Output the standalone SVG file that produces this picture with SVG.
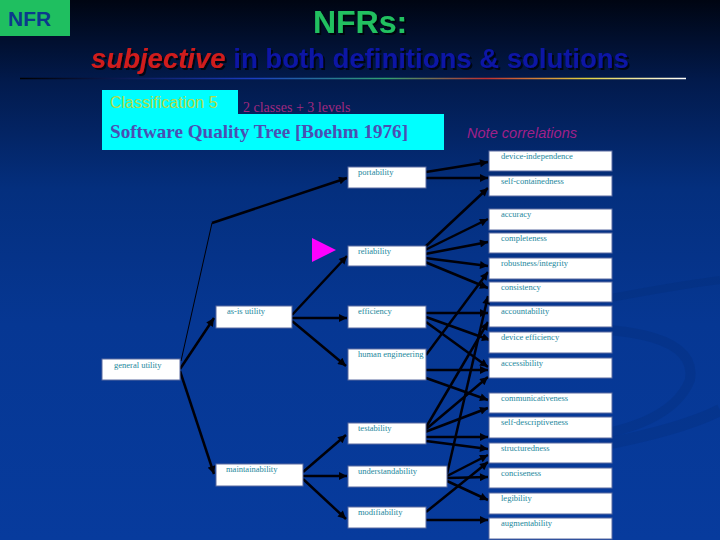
<svg xmlns="http://www.w3.org/2000/svg" width="720" height="540" viewBox="0 0 720 540">
<defs>
<linearGradient id="bg" x1="0" y1="0" x2="0" y2="1">
<stop offset="0" stop-color="#000512"/>
<stop offset="0.15" stop-color="#021a4c"/>
<stop offset="0.35" stop-color="#042f7e"/>
<stop offset="0.6" stop-color="#063793"/>
<stop offset="1" stop-color="#073b9d"/>
</linearGradient>
<linearGradient id="rule" x1="20" y1="0" x2="686" y2="0" gradientUnits="userSpaceOnUse">
<stop offset="0" stop-color="#000000"/>
<stop offset="0.35" stop-color="#1a3cc0"/>
<stop offset="0.55" stop-color="#30a070"/>
<stop offset="0.7" stop-color="#c03030"/>
<stop offset="0.85" stop-color="#e0d040"/>
<stop offset="1" stop-color="#ffffff"/>
</linearGradient>
<filter id="sh" x="-5%" y="-20%" width="110%" height="150%">
<feDropShadow dx="2" dy="2" stdDeviation="0.6" flood-color="#000000" flood-opacity="0.7"/>
</filter>
<marker id="ah" viewBox="0 0 10 10" refX="10" refY="5" markerWidth="10" markerHeight="8" markerUnits="userSpaceOnUse" orient="auto">
<path d="M0,0 L10,5 L0,10 z" fill="#000008"/>
</marker>
<style>
.box{fill:#ffffff;stroke:#5a6aa0;stroke-width:1}
.lbl{font-family:"Liberation Serif","DejaVu Serif",serif;font-size:8.5px;fill:#23879c}
.ed{stroke:#000008;stroke-width:2.5;fill:none;marker-end:url(#ah)}
.thin{stroke:#000008;stroke-width:1;fill:none}
</style>
</defs>
<rect x="0" y="0" width="720" height="540" fill="url(#bg)"/>
<g fill="none" stroke="#05286f" stroke-opacity="0.22">
<path d="M600 300 Q680 285 720 280" stroke-width="8"/>
<path d="M520 330 Q700 320 690 380 Q670 430 560 440" stroke-width="10"/>
<path d="M600 445 Q680 430 720 410" stroke-width="12"/>
</g>

<g id="badge">
<rect x="0" y="0" width="70" height="36" fill="#1fbf60"/>
<text x="8" y="26" font-family="'Liberation Sans',Arial,sans-serif" font-weight="bold" font-size="21" fill="#0b3a8c">NFR</text>
</g>
<g id="title" filter="url(#sh)">
<text x="360" y="33" text-anchor="middle" font-family="'Liberation Sans',Arial,sans-serif" font-weight="bold" font-size="32" fill="#20c060">NFRs:</text>
<text x="360" y="68" text-anchor="middle" font-family="'Liberation Sans',Arial,sans-serif" font-weight="bold" font-size="27.5"><tspan fill="#d01c1c" font-style="italic">subjective</tspan><tspan fill="#0a14a4"> in both definitions &amp; solutions</tspan></text>
</g>
<line x1="20" y1="78.5" x2="686" y2="78.5" stroke="url(#rule)" stroke-width="1.6"/>

<g id="header">
<rect x="102" y="90" width="136" height="25" fill="#00ffff"/>
<rect x="102" y="114" width="342" height="36" fill="#00ffff"/>
<text x="110" y="108" font-family="'Liberation Sans',Arial,sans-serif" font-size="16" fill="#b4dc48">Classification 5</text>
<text x="243" y="112" font-family="'Liberation Serif','Times New Roman',serif" font-size="14" fill="#a0287f">2 classes + 3 levels</text>
<text x="110" y="138" font-family="'Liberation Serif','Times New Roman',serif" font-weight="bold" font-size="19" fill="#4b4fb3" textLength="298" lengthAdjust="spacingAndGlyphs">Software Quality Tree [Boehm 1976]</text>
<text x="467" y="138" font-family="'Liberation Sans',Arial,sans-serif" font-style="italic" font-size="14" fill="#a0208a" textLength="110" lengthAdjust="spacingAndGlyphs">Note correlations</text>
</g>
<polygon id="pointer" points="312,238 312,262 336,250" fill="#ff00ff"/>

<g id="connectors">
<path class="thin" d="M181 361 L212 223"/>
<path class="ed" d="M212 223 L347 178"/>
<path class="ed" d="M180 369 L214 318"/>
<path class="ed" d="M180 371 L214 474"/>
<path class="ed" d="M292 315 L347 256"/>
<path class="ed" d="M292 318 L347 318"/>
<path class="ed" d="M292 321 L346 366"/>
<path class="ed" d="M303 472 L346 435"/>
<path class="ed" d="M303 476 L347 476"/>
<path class="ed" d="M303 479 L346 519"/>
<path class="ed" d="M426 172 L488 162"/>
<path class="ed" d="M426 178 L488 178"/>
<path class="ed" d="M425 247 L488 188"/>
<path class="ed" d="M425 250 L488 219"/>
<path class="ed" d="M425 254 L488 242"/>
<path class="ed" d="M425 258 L488 266"/>
<path class="ed" d="M425 262 L488 288"/>
<path class="ed" d="M426 313 L488 313"/>
<path class="ed" d="M426 317 L490 340"/>
<path class="ed" d="M426 322 L488 367"/>
<path class="ed" d="M426 355 L488 272"/>
<path class="ed" d="M426 370 L488 370"/>
<path class="ed" d="M426 378 L488 400"/>
<path class="ed" d="M425 429 L488 322"/>
<path class="ed" d="M425 430 L488 377"/>
<path class="ed" d="M425 432 L488 408"/>
<path class="ed" d="M426 437 L488 437"/>
<path class="ed" d="M426 441 L488 449"/>
<path class="ed" d="M447 474 L488 296"/>
<path class="ed" d="M447 476 L488 455"/>
<path class="ed" d="M447 478 L488 477"/>
<path class="ed" d="M447 481 L488 500"/>
<path class="ed" d="M426 512 L488 462"/>
<path class="ed" d="M426 520 L488 520"/>
</g>

<g id="n-general-utility"><rect class="box" x="102" y="359" width="78" height="21"/><text class="lbl" x="114" y="368">general utility</text></g>
<g id="n-as-is-utility"><rect class="box" x="216" y="306" width="76" height="22"/><text class="lbl" x="227" y="314">as-is utility</text></g>
<g id="n-maintainability"><rect class="box" x="216" y="464" width="87" height="22"/><text class="lbl" x="226" y="472">maintainability</text></g>
<g id="n-portability"><rect class="box" x="348" y="167" width="78" height="21"/><text class="lbl" x="358" y="175">portability</text></g>
<g id="n-reliability"><rect class="box" x="348" y="246" width="78" height="20"/><text class="lbl" x="358" y="254">reliability</text></g>
<g id="n-efficiency"><rect class="box" x="348" y="306" width="78" height="22"/><text class="lbl" x="358" y="314">efficiency</text></g>
<g id="n-human-engineering"><rect class="box" x="348" y="349" width="78" height="31"/><text class="lbl" x="358" y="357">human engineering</text></g>
<g id="n-testability"><rect class="box" x="348" y="423" width="78" height="21"/><text class="lbl" x="358" y="431">testability</text></g>
<g id="n-understandability"><rect class="box" x="348" y="466" width="99" height="21"/><text class="lbl" x="358" y="474">understandability</text></g>
<g id="n-modifiability"><rect class="box" x="348" y="507" width="78" height="21"/><text class="lbl" x="358" y="515">modifiability</text></g>

<g id="n-device-independence"><rect class="box" x="489" y="151" width="123" height="20"/><text class="lbl" x="501" y="159">device-independence</text></g>
<g id="n-self-containedness"><rect class="box" x="489" y="176" width="123" height="20"/><text class="lbl" x="501" y="184">self-containedness</text></g>
<g id="n-accuracy"><rect class="box" x="489" y="209" width="123" height="21"/><text class="lbl" x="501" y="217">accuracy</text></g>
<g id="n-completeness"><rect class="box" x="489" y="233" width="123" height="20"/><text class="lbl" x="501" y="241">completeness</text></g>
<g id="n-robustness"><rect class="box" x="489" y="258" width="123" height="21"/><text class="lbl" x="501" y="266">robustness/integrity</text></g>
<g id="n-consistency"><rect class="box" x="489" y="282" width="123" height="20"/><text class="lbl" x="501" y="290">consistency</text></g>
<g id="n-accountability"><rect class="box" x="489" y="306" width="123" height="21"/><text class="lbl" x="501" y="314">accountability</text></g>
<g id="n-device-efficiency"><rect class="box" x="489" y="332" width="123" height="21"/><text class="lbl" x="501" y="340">device efficiency</text></g>
<g id="n-accessibility"><rect class="box" x="489" y="358" width="123" height="20"/><text class="lbl" x="501" y="366">accessibility</text></g>
<g id="n-communicativeness"><rect class="box" x="489" y="393" width="123" height="20"/><text class="lbl" x="501" y="401">communicativeness</text></g>
<g id="n-self-descriptiveness"><rect class="box" x="489" y="417" width="123" height="21"/><text class="lbl" x="501" y="425">self-descriptiveness</text></g>
<g id="n-structuredness"><rect class="box" x="489" y="443" width="123" height="20"/><text class="lbl" x="501" y="451">structuredness</text></g>
<g id="n-conciseness"><rect class="box" x="489" y="468" width="123" height="20"/><text class="lbl" x="501" y="476">conciseness</text></g>
<g id="n-legibility"><rect class="box" x="489" y="493" width="123" height="21"/><text class="lbl" x="501" y="501">legibility</text></g>
<g id="n-augmentability"><rect class="box" x="489" y="518" width="123" height="21"/><text class="lbl" x="501" y="526">augmentability</text></g>
</svg>
